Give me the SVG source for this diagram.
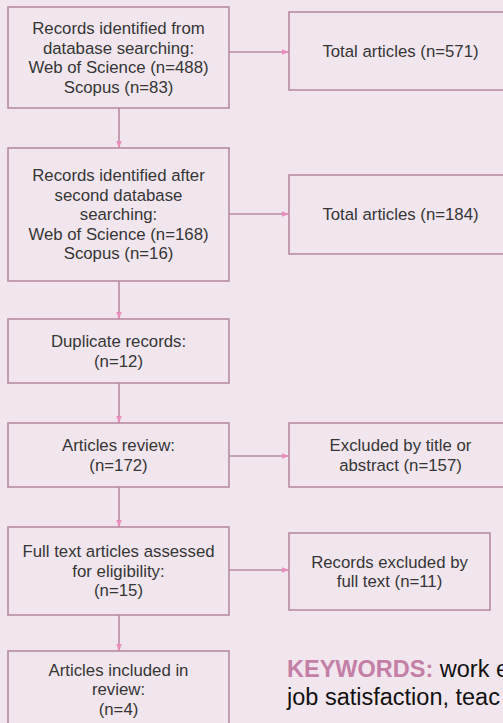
<svg xmlns="http://www.w3.org/2000/svg" width="503" height="723" viewBox="0 0 503 723">
<style>
.box{fill:none;stroke:#b88ba2;stroke-width:1.6}
.t{font-family:"Liberation Sans",Arial,sans-serif;font-size:16.8px;fill:#363636;text-anchor:middle}
.c{fill:none;stroke:#b88ba2;stroke-width:1.6}
.kw{font-family:"Liberation Sans",Arial,sans-serif;font-size:23.5px}
</style>
<defs>
<marker id="ah" viewBox="0 0 10 10" refX="10" refY="5" markerWidth="7" markerHeight="7" markerUnits="userSpaceOnUse" orient="auto">
<path d="M0,1 L10,5 L0,9 Z" fill="#ec8cbd"/>
</marker>
</defs>
<rect width="503" height="723" fill="#f1e6ed"/>
<g id="connectors">
<line class="c" x1="119" y1="108" x2="119" y2="148" marker-end="url(#ah)"/>
<line class="c" x1="119" y1="281" x2="119" y2="319" marker-end="url(#ah)"/>
<line class="c" x1="119" y1="383" x2="119" y2="423" marker-end="url(#ah)"/>
<line class="c" x1="119" y1="487" x2="119" y2="527" marker-end="url(#ah)"/>
<line class="c" x1="119" y1="615" x2="119" y2="651" marker-end="url(#ah)"/>
<line class="c" x1="229" y1="52" x2="289" y2="52" marker-end="url(#ah)"/>
<line class="c" x1="229" y1="214" x2="289" y2="214" marker-end="url(#ah)"/>
<line class="c" x1="229" y1="456" x2="289" y2="456" marker-end="url(#ah)"/>
<line class="c" x1="229" y1="570" x2="289" y2="570" marker-end="url(#ah)"/>
</g>
<g id="n1">
<rect class="box" x="8" y="7" width="221" height="101"/>
<text class="t"><tspan x="118.5" y="34">Records identified from</tspan><tspan x="118.5" y="53.5">database searching:</tspan><tspan x="118.5" y="73">Web of Science (n=488)</tspan><tspan x="118.5" y="92.5">Scopus (n=83)</tspan></text>
</g>
<g id="n2">
<rect class="box" x="8" y="148" width="221" height="133"/>
<text class="t"><tspan x="118.5" y="181.3">Records identified after</tspan><tspan x="118.5" y="200.8">second database</tspan><tspan x="118.5" y="220.3">searching:</tspan><tspan x="118.5" y="239.8">Web of Science (n=168)</tspan><tspan x="118.5" y="259.3">Scopus (n=16)</tspan></text>
</g>
<g id="n3">
<rect class="box" x="8" y="319" width="221" height="64"/>
<text class="t"><tspan x="118.5" y="347">Duplicate records:</tspan><tspan x="118.5" y="366.5">(n=12)</tspan></text>
</g>
<g id="n4">
<rect class="box" x="8" y="423" width="221" height="64"/>
<text class="t"><tspan x="118.5" y="451">Articles review:</tspan><tspan x="118.5" y="470.5">(n=172)</tspan></text>
</g>
<g id="n5">
<rect class="box" x="8" y="527" width="221" height="88"/>
<text class="t"><tspan x="118.5" y="557.3">Full text articles assessed</tspan><tspan x="118.5" y="576.8">for eligibility:</tspan><tspan x="118.5" y="596.3">(n=15)</tspan></text>
</g>
<g id="n6">
<rect class="box" x="8" y="651" width="221" height="78"/>
<text class="t"><tspan x="118.5" y="675.7">Articles included in</tspan><tspan x="118.5" y="695.2">review:</tspan><tspan x="118.5" y="714.7">(n=4)</tspan></text>
</g>
<g id="r1">
<rect class="box" x="289" y="12" width="223" height="78"/>
<text class="t" x="400.5" y="57">Total articles (n=571)</text>
</g>
<g id="r2">
<rect class="box" x="289" y="175" width="223" height="79"/>
<text class="t" x="400.5" y="220.3">Total articles (n=184)</text>
</g>
<g id="r3">
<rect class="box" x="289" y="423" width="223" height="64"/>
<text class="t"><tspan x="400.5" y="451">Excluded by title or</tspan><tspan x="400.5" y="470.5">abstract (n=157)</tspan></text>
</g>
<g id="r4">
<rect class="box" x="289" y="533" width="201" height="77"/>
<text class="t"><tspan x="389.5" y="567.5">Records excluded by</tspan><tspan x="389.5" y="587">full text (n=11)</tspan></text>
</g>
<g id="keywords">
<text class="kw" x="287" y="677"><tspan font-weight="bold" fill="#c47fa6">KEYWORDS:</tspan><tspan fill="#111"> work e</tspan></text>
<text class="kw" x="287" y="705" fill="#111">job satisfaction, teac</text>
</g>
</svg>
